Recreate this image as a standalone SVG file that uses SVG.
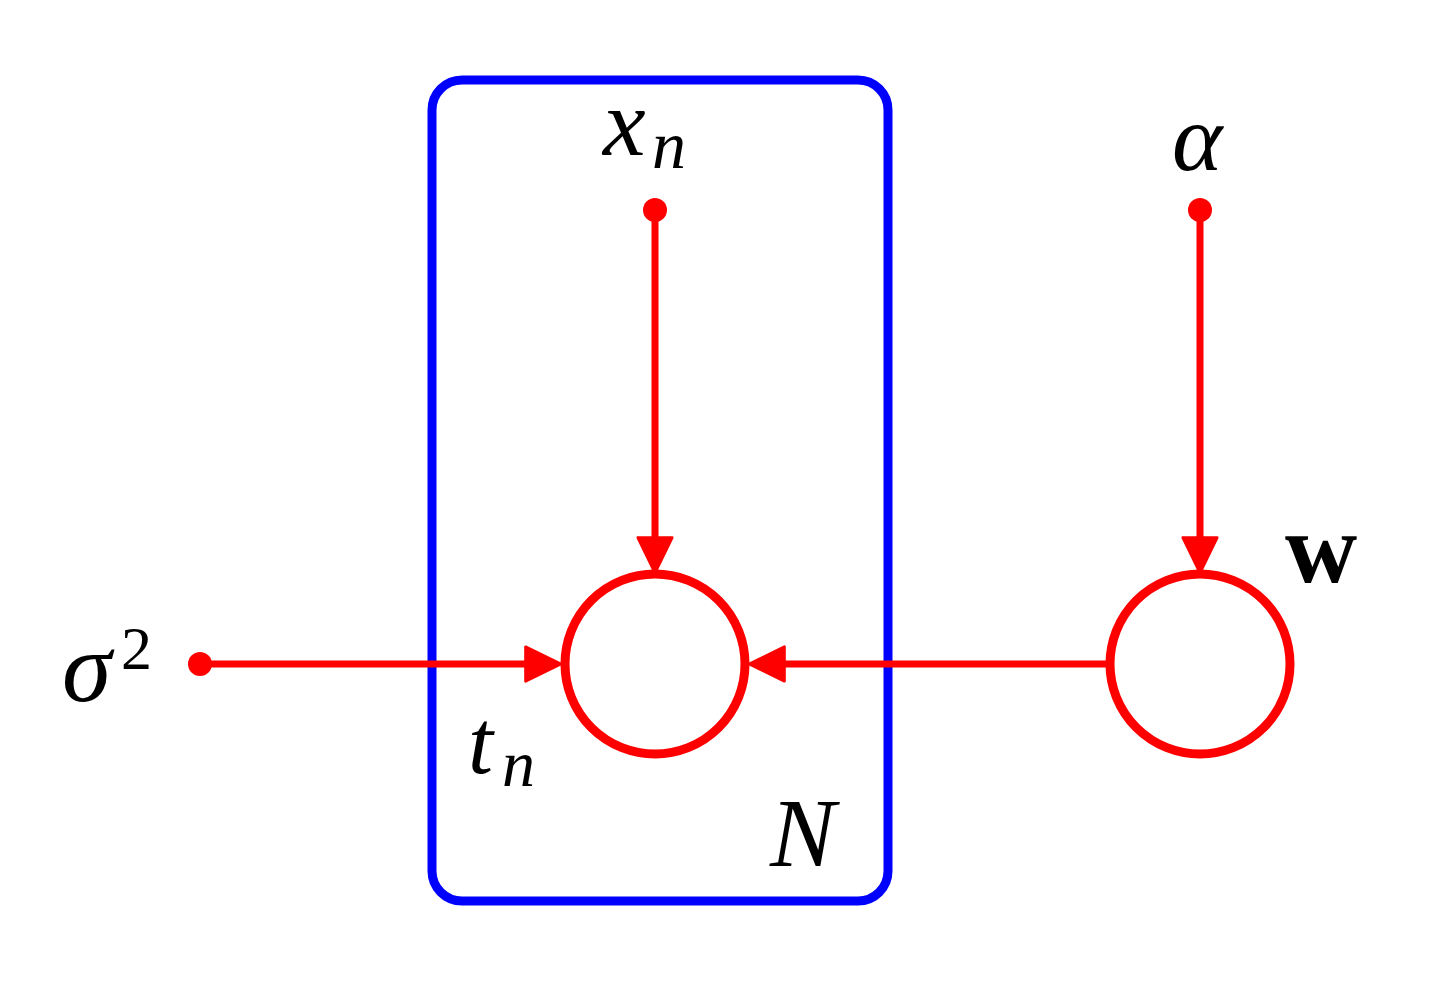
<svg xmlns="http://www.w3.org/2000/svg" width="1433" height="1000" viewBox="0 0 1433 1000">
<style>
.lbl{font-family:"Liberation Serif","Times New Roman",serif;font-style:italic;fill:#000}
.up{font-family:"Liberation Serif","Times New Roman",serif;fill:#000}
.bold{font-family:"Liberation Serif","Times New Roman",serif;font-weight:bold;fill:#000}
.edge{stroke:#ff0000;stroke-width:7;fill:none}
.node{stroke:#ff0000;stroke-width:9;fill:#fff}
.dot{fill:#ff0000}
</style>
<defs>
<marker id="arr" markerUnits="userSpaceOnUse" markerWidth="40" markerHeight="40" viewBox="-2 -2 42 40" refX="13" refY="18" orient="auto">
<path d="M0,0 L37,18 L0,36 Z" fill="#ff0000" stroke="#ff0000" stroke-width="3" stroke-linejoin="round"/>
</marker>
</defs>
<rect width="1433" height="1000" fill="#fff"/>
<g id="plate">
<rect x="432" y="80" width="456" height="821" rx="30" ry="30" fill="none" stroke="#0000ff" stroke-width="9"/>
<text class="lbl" x="770" y="866" font-size="98">N</text>
</g>
<g id="connectors">
<path class="edge" d="M655,210 L655,550" marker-end="url(#arr)"/>
<path class="edge" d="M1200,210 L1200,550" marker-end="url(#arr)"/>
<path class="edge" d="M200,664 L538,664" marker-end="url(#arr)"/>
<path class="edge" d="M1110,664 L772,664" marker-end="url(#arr)"/>
</g>
<g id="t_n">
<circle class="node" cx="655" cy="664" r="90"/>
<text class="lbl" x="468" y="773" font-size="90">t</text>
<text class="lbl" x="502" y="786" font-size="66">n</text>
</g>
<g id="w">
<circle class="node" cx="1200" cy="664" r="90"/>
<text class="bold" x="1285" y="582" font-size="100">w</text>
</g>
<g id="x_n">
<circle class="dot" cx="655" cy="210" r="12"/>
<text class="lbl" x="603" y="155" font-size="96">x</text>
<text class="lbl" x="652" y="168" font-size="68">n</text>
</g>
<g id="alpha">
<circle class="dot" cx="1200" cy="210" r="12"/>
<text class="lbl" x="1172" y="170" font-size="96">α</text>
</g>
<g id="sigma2">
<circle class="dot" cx="200" cy="664" r="12"/>
<text class="lbl" x="62" y="701" font-size="100">σ</text>
<text class="up" x="121" y="669" font-size="62">2</text>
</g>
</svg>
